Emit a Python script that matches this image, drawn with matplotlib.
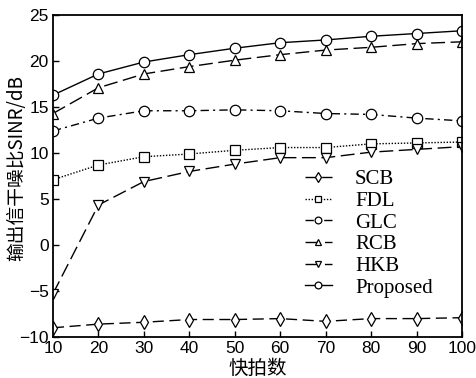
import numpy as np
import matplotlib.pyplot as plt

# %% Datos
snapshots = [10, 20, 30, 40, 50, 60, 70, 80, 90, 100]
scb = [-9.0, -8.6, -8.4, -8.1, -8.1, -8.0, -8.3, -8.0, -8.0, -7.9]
fdl = [7.1, 8.7, 9.6, 9.9, 10.3, 10.6, 10.6, 11.0, 11.1, 11.2]
glc = [12.4, 13.8, 14.6, 14.6, 14.7, 14.6, 14.3, 14.2, 13.8, 13.5]
rcb = [14.3, 17.1, 18.6, 19.4, 20.1, 20.7, 21.2, 21.5, 21.9, 22.1]
hkb = [-5.3, 4.35, 6.9, 8.0, 8.8, 9.5, 9.5, 10.1, 10.4, 10.7]
proposed = [16.3, 18.6, 19.9, 20.7, 21.4, 22.0, 22.3, 22.7, 23.0, 23.3]

# %% Figura
fig = plt.figure(figsize=(4.77, 3.78), dpi=100)
ax = fig.add_axes([0.111, 0.1085, 0.8576, 0.8515])

comun = dict(color='black', linewidth=1.0, markersize=7.5, markerfacecolor='white',
             markeredgewidth=0.9)
ax.plot(snapshots, scb, linestyle=(0, (8, 4)), marker='d', label='SCB', **comun)
ax.plot(snapshots, fdl, linestyle=(0, (1, 1.2)), marker='s', label='FDL', **comun)
ax.plot(snapshots, glc, linestyle=(0, (6, 3, 1.5, 3)), marker='o', label='GLC', **comun)
ax.plot(snapshots, rcb, linestyle=(0, (10, 4)), marker='^', label='RCB', **comun)
ax.plot(snapshots, hkb, linestyle=(0, (10, 4)), marker='v', label='HKB', **comun)
ax.plot(snapshots, proposed, linestyle='-', marker='o', label='Proposed', **comun)

ax.set_xlim(10, 100)
ax.set_ylim(-10, 25)
ax.set_xticks(snapshots)
ax.set_yticks(np.arange(-10, 26, 5))
ax.tick_params(direction='in', length=4, labelsize=12.5, width=1, pad=3)
for lab in ax.get_xticklabels() + ax.get_yticklabels():
    lab.set_family(['Liberation Sans'])
for s in ax.spines.values():
    s.set_linewidth(1.3)

ax.set_xlabel('快拍数', fontsize=14, family=['Noto Sans CJK SC'])
ax.set_ylabel('输出信干噪比SINR/dB', fontsize=13.5, family=['Noto Sans CJK SC'])
ax.xaxis.set_label_coords(0.50, -0.066)
ax.yaxis.set_label_coords(-0.062, 0.525)

ax.legend(loc='upper left', bbox_to_anchor=(0.616, 0.52), frameon=False,
          borderaxespad=0, borderpad=0, markerscale=0.65,
          prop={'family': 'Liberation Serif', 'size': 15},
          handlelength=1.3, handletextpad=1.1, labelspacing=0.1)

plt.savefig('out.png', dpi=100)
